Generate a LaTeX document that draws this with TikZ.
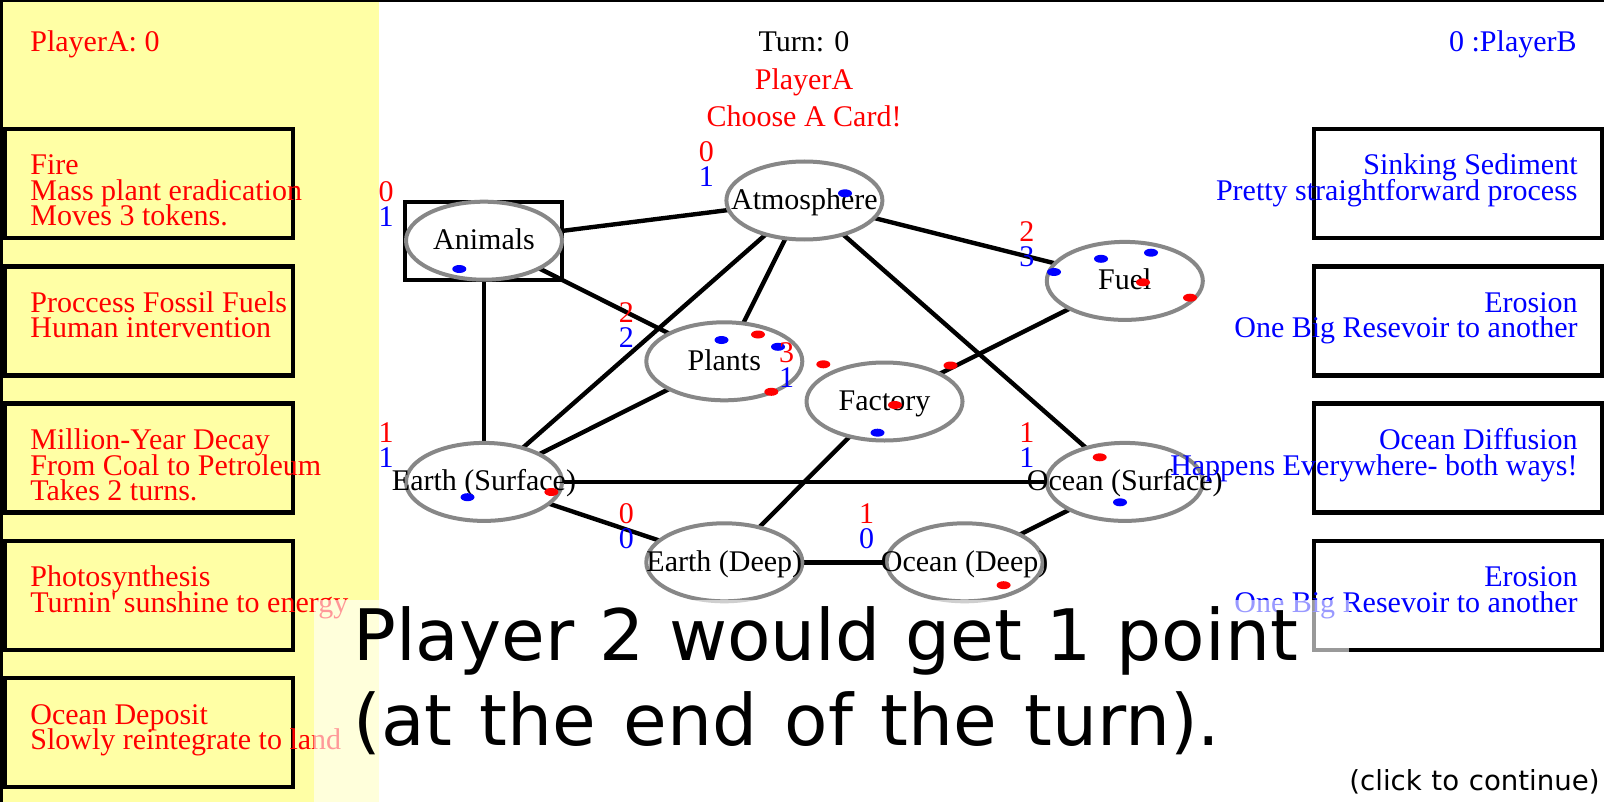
\documentclass[tikz,border=0pt]{standalone}
\usepackage{fontspec}
\setmainfont{Liberation Serif}
\newfontfamily\cdserif{Liberation Serif}
\newfontfamily\bigsans{DejaVu Sans}
\newfontfamily\bigsanswide{DejaVu Sans}[WordSpace=1.1]
\usetikzlibrary{shapes.geometric}
\definecolor{panelyellow}{RGB}{255,255,165}
\definecolor{ringgray}{RGB}{135,135,135}
\newcommand\cdfont{\cdserif\fontsize{15}{15}\selectfont}
\begin{document}
\begin{tikzpicture}[x=0.5pt,y=-0.5pt,
  res/.style={ellipse, draw=ringgray, fill=white, line width=2pt, minimum width=78pt, minimum height=39pt, inner sep=0pt},
  link/.style={line width=2.2pt, black},
  card/.style={draw=black, line width=2.2pt},
  ltxt/.style={anchor=base west, inner sep=0pt, text=red, font=\cdfont},
  rtxt/.style={anchor=base east, inner sep=0pt, text=blue, font=\cdfont},
  ntxt/.style={anchor=base, inner sep=0pt, font=\cdfont},
  rnum/.style={anchor=base, inner sep=0pt, text=red, font=\cdfont},
  bnum/.style={anchor=base, inner sep=0pt, text=blue, font=\cdfont},
  bigmsg/.style={anchor=base west, inner sep=0pt, font=\bigsans\fontsize{35.5}{35.5}\selectfont},
]
\useasboundingbox (0,0) rectangle (1604,802);
\fill[white] (0,0) rectangle (1604,802);
\fill[panelyellow] (0,0) rectangle (379,802);
\draw[line width=1pt] (0,1) -- (1604,1);
\draw[line width=1.5pt] (1.5,0) -- (1.5,802);

% card boxes
\foreach \t in {127,264.3,401.6,538.9,676.2}{
  \draw[card] (5,\t+2) rectangle (293,\t+111);
}
\foreach \t in {127,264.3,401.6,538.9}{
  \draw[card] (1314,\t+2) rectangle (1602,\t+111);
}

% animals box
\draw[line width=2pt] (405,202.5) rectangle (562,280.3);

% reservoir centres
\coordinate (anim) at (484,240.7);
\coordinate (atm) at (804.4,200.5);
\coordinate (fuel) at (1124.8,280.9);
\coordinate (plant) at (724.3,361.3);
\coordinate (fact) at (884.5,401.5);
\coordinate (esurf) at (484,481.9);
\coordinate (osurf) at (1124.8,481.9);
\coordinate (edeep) at (724.3,562.3);
\coordinate (odeep) at (964.6,562.3);

% connectors
\draw[link] (anim) -- (atm);
\draw[link] (anim) -- (plant);
\draw[link] (anim) -- (esurf);
\draw[link] (atm) -- (fuel);
\draw[link] (atm) -- (plant);
\draw[link] (atm) -- (esurf);
\draw[link] (atm) -- (osurf);
\draw[link] (plant) -- (esurf);
\draw[link] (fuel) -- (fact);
\draw[link] (fact) -- (edeep);
\draw[link] (esurf) -- (osurf);
\draw[link] (esurf) -- (edeep);
\draw[link] (edeep) -- (odeep);
\draw[link] (osurf) -- (odeep);

% ellipses
\node[res] (animE) at (anim) {};
\node[res] (atmE) at (atm) {};
\node[res] (fuelE) at (fuel) {};
\node[res] (plantE) at (plant) {};
\node[res] (factE) at (fact) {};
\node[res] (esurfE) at (esurf) {};
\node[res] (osurfE) at (osurf) {};
\node[res] (edeepE) at (edeep) {};
\node[res] (odeepE) at (odeep) {};

% names
\node[ntxt] (animT) at (484,249.7) {Animals};
\node[ntxt] (atmT) at (804.4,209.5) {Atmosphere};
\node[ntxt] (fuelT) at (1124.8,289.9) {Fuel};
\node[ntxt] (plantT) at (724.3,370.3) {Plants};
\node[ntxt] (factT) at (884.5,410.5) {Factory};
\node[ntxt] (esurfT) at (484,490.9) {Earth (Surface)};
\node[ntxt] (osurfT) at (1124.8,490.9) {Ocean (Surface)};
\node[ntxt] (edeepT) at (724.3,571.3) {Earth (Deep)};
\node[ntxt] (odeepT) at (964.6,571.3) {Ocean (Deep)};

% tokens
\fill[blue] (845,193.3) ellipse [x radius=7, y radius=4];
\fill[blue] (459.3,269) ellipse [x radius=7, y radius=4];
\fill[blue] (1054,272) ellipse [x radius=7, y radius=4];
\fill[blue] (1101,258.8) ellipse [x radius=7, y radius=4];
\fill[blue] (1151,252.7) ellipse [x radius=7, y radius=4];
\fill[red] (1143,282.3) ellipse [x radius=7, y radius=4];
\fill[red] (1190,297.7) ellipse [x radius=7, y radius=4];
\fill[blue] (721.5,340) ellipse [x radius=7, y radius=4];
\fill[red] (758,334.5) ellipse [x radius=7, y radius=4];
\fill[blue] (778,346.8) ellipse [x radius=7, y radius=4];
\fill[red] (771.3,391.8) ellipse [x radius=7, y radius=4];
\fill[red] (823.3,364.3) ellipse [x radius=7, y radius=4];
\fill[red] (895,405) ellipse [x radius=7, y radius=4];
\fill[blue] (877.5,432.7) ellipse [x radius=7, y radius=4];
\fill[red] (950.5,365.5) ellipse [x radius=7, y radius=4];
\fill[blue] (467.5,497.2) ellipse [x radius=7, y radius=4];
\fill[red] (551.4,492) ellipse [x radius=7, y radius=4];
\fill[red] (1099.7,457.3) ellipse [x radius=7, y radius=4];
\fill[blue] (1120,502.3) ellipse [x radius=7, y radius=4];
\fill[red] (1003.6,585.2) ellipse [x radius=7, y radius=4];

% counts
\node[rnum] (animR) at (386,201.7) {0};   \node[bnum] (animB) at (386,226.7) {1};
\node[rnum] (atmR) at (706.4,161.5) {0};  \node[bnum] (atmB) at (706.4,186.5) {1};
\node[rnum] (fuelR) at (1026.8,241.9) {2};\node[bnum] (fuelB) at (1026.8,266.9) {3};
\node[rnum] (plantR) at (626.3,322.3) {2};\node[bnum] (plantB) at (626.3,347.3) {2};
\node[rnum] (factR) at (786.5,362.5) {3}; \node[bnum] (factB) at (786.5,387.5) {1};
\node[rnum] (esurfR) at (386,442.9) {1};  \node[bnum] (esurfB) at (386,467.9) {1};
\node[rnum] (osurfR) at (1026.8,442.9) {1};\node[bnum] (osurfB) at (1026.8,467.9) {1};
\node[rnum] (edeepR) at (626.3,523.3) {0};\node[bnum] (edeepB) at (626.3,548.3) {0};
\node[rnum] (odeepR) at (866.6,523.3) {1};\node[bnum] (odeepB) at (866.6,548.3) {0};

% header
\node[ltxt] (scoreA) at (30,51.7) {PlayerA: 0};
\node[ntxt] (turn) at (804,51.7) {Turn: 0};
\node[ntxt, text=red] (who) at (804,90) {PlayerA};
\node[ntxt, text=red] (choose) at (804,126.7) {Choose A Card!};
\node[rtxt] (scoreB) at (1577,51.7) {0 :PlayerB};

% left cards
\node[ltxt] (l1a) at (30,175) {Fire};
\node[ltxt] (l1b) at (30,200.5) {Mass plant eradication};
\node[ltxt] (l1c) at (30,226) {Moves 3 tokens.};
\node[ltxt] (l2a) at (30,312.3) {Proccess Fossil Fuels};
\node[ltxt] (l2b) at (30,337.8) {Human intervention};
\node[ltxt] (l3a) at (30,449.6) {Million-Year Decay};
\node[ltxt] (l3b) at (30,475.1) {From Coal to Petroleum};
\node[ltxt] (l3c) at (30,500.6) {Takes 2 turns.};
\node[ltxt] (l4a) at (30,586.9) {Photosynthesis};
\node[ltxt] (l4b) at (30,612.4) {Turnin' sunshine to energy};
\node[ltxt] (l5a) at (30,724.2) {Ocean Deposit};
\node[ltxt] (l5b) at (30,749.7) {Slowly reintegrate to land};

% right cards
\node[rtxt] (r1a) at (1578,175) {Sinking Sediment};
\node[rtxt] (r1b) at (1578,200.5) {Pretty straightforward process};
\node[rtxt] (r2a) at (1578,312.3) {Erosion};
\node[rtxt] (r2b) at (1578,337.8) {One Big Resevoir to another};
\node[rtxt] (r3a) at (1578,449.6) {Ocean Diffusion};
\node[rtxt] (r3b) at (1578,475.1) {Happens Everywhere- both ways!};
\node[rtxt] (r4a) at (1578,586.9) {Erosion};
\node[rtxt] (r4b) at (1578,612.4) {One Big Resevoir to another};

% message overlay
\fill[white, opacity=0.6] (314,600) rectangle (1349,802);
\node[bigmsg] (msg1) at (353,660) {Player 2 would get 1 point};
\node[bigmsg, font=\bigsanswide\fontsize{35.5}{35.5}\selectfont] (msg2) at (353,745) {(at the end of the turn).};
\node[anchor=base east, inner sep=0pt, font=\bigsans\fontsize{13.8}{13.8}\selectfont] (cont) at (1600,790) {(click to continue)};
\end{tikzpicture}
\end{document}
